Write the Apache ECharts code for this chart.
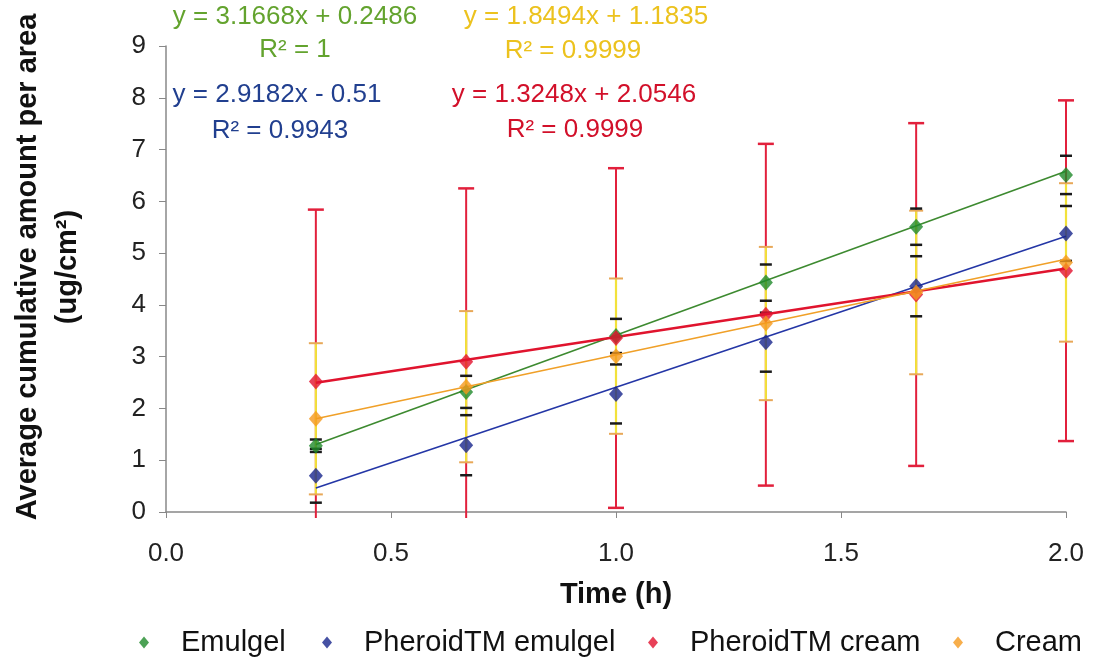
<!DOCTYPE html>
<html><head><meta charset="utf-8">
<script src="https://cdn.jsdelivr.net/npm/echarts/dist/echarts.min.js"></script>
<style>html,body{margin:0;padding:0;background:#fff}#c{width:1095px;height:661px}</style>
</head><body><div id="c"></div>
<script>
// ---- data ----
const times = [0.333, 0.667, 1.0, 1.333, 1.667, 2.0];
const seriesNames = ['Emulgel', 'PheroidTM emulgel', 'PheroidTM cream', 'Cream'];
const emulgel = [1.28, 2.32, 3.40, 4.43, 5.51, 6.51];
const emulgelSD = [0.12, 0.31, 0.33, 0.35, 0.35, 0.37];
const pheroidEmulgel = [0.70, 1.29, 2.28, 3.28, 4.36, 5.38];
const pheroidEmulgelSD = [0.52, 0.58, 0.57, 0.57, 0.58, 0.53];
const pheroidCream = [2.52, 2.90, 3.36, 3.81, 4.20, 4.66];
const pheroidCreamSD = [3.32, 3.35, 3.28, 3.30, 3.31, 3.29];
const cream = [1.80, 2.42, 3.01, 3.64, 4.24, 4.82];
const creamSD = [1.46, 1.46, 1.50, 1.48, 1.58, 1.53];
// trendline equations shown on the chart (Emulgel, PheroidTM emulgel, PheroidTM cream, Cream)
const trendSlopes = [3.1668, 2.9182, 1.3248, 1.8494];
const trendIntercepts = [0.2486, -0.51, 2.0546, 1.1835];
const equationTexts = ['y = 3.1668x + 0.2486', 'y = 2.9182x - 0.51', 'y = 1.3248x + 2.0546', 'y = 1.8494x + 1.1835'];
const r2Texts = ['R² = 1', 'R² = 0.9943', 'R² = 0.9999', 'R² = 0.9999'];
const xTickLabels = ['0.0', '0.5', '1.0', '1.5', '2.0'];

// ---- styling ----
const markerColors = ['#1f8a2a', '#18268c', '#e2122e', '#f59a1e'];
const lineColors = ['#3d8a30', '#2436a6', '#e0142e', '#f0a028'];
const textColors = ['#63a32e', '#213f8f', '#d2102a', '#ecc21e'];
const eqPos = [[295, 17, 295, 50], [277, 95, 280, 131], [574, 95, 575, 130], [586, 17, 573, 51]];
const FONT = '"Liberation Sans", Arial, sans-serif';

const meansList = [emulgel, pheroidEmulgel, pheroidCream, cream];

function errSeries(id, means, sds, o) {
  return {
    type: 'custom', id: id, silent: true, z: o.z, clip: false,
    data: times.map((t, i) => [t, means[i] - sds[i], means[i] + sds[i]]),
    encode: { x: 0, y: [1, 2] },
    renderItem(params, api) {
      const x = api.value(0), lo = api.value(1), hi = api.value(2);
      const pt = api.coord([x, hi]);
      const pb = api.coord([x, Math.max(lo, 0)]);
      const ch = [];
      if (o.line) ch.push({ type: 'line', shape: { x1: pt[0], y1: pt[1], x2: pb[0], y2: pb[1] + (lo < 0 ? 6 : 0) }, style: { stroke: o.line, lineWidth: o.lw } });
      ch.push({ type: 'line', shape: { x1: pt[0] - o.cap, y1: pt[1], x2: pt[0] + o.cap, y2: pt[1] }, style: { stroke: o.capColor, lineWidth: o.capW } });
      if (lo >= 0) ch.push({ type: 'line', shape: { x1: pb[0] - o.cap, y1: pb[1], x2: pb[0] + o.cap, y2: pb[1] }, style: { stroke: o.capColor, lineWidth: o.capW } });
      return { type: 'group', children: ch };
    }
  };
}

const series = [];
series.push(errSeries('errRed', pheroidCream, pheroidCreamSD, { z: 2, line: '#e2203c', lw: 2, cap: 8, capColor: '#e2203c', capW: 2.5 }));
series.push(errSeries('errCream', cream, creamSD, { z: 3, line: '#f2e23a', lw: 2.2, cap: 7, capColor: '#e8a858', capW: 2 }));
series.push(errSeries('errEmulgel', emulgel, emulgelSD, { z: 4, line: null, cap: 6, capColor: '#1a1a1a', capW: 2.5 }));
series.push(errSeries('errPE', pheroidEmulgel, pheroidEmulgelSD, { z: 4, line: null, cap: 6, capColor: '#1a1a1a', capW: 2.5 }));

for (let k = 0; k < 4; k++) {
  const x0 = times[0], x1 = times[times.length - 1];
  series.push({
    type: 'line', id: 'trend' + k, silent: true, z: 5, showSymbol: false, symbol: 'none',
    data: [[x0, trendSlopes[k] * x0 + trendIntercepts[k]], [x1, trendSlopes[k] * x1 + trendIntercepts[k]]],
    lineStyle: { color: lineColors[k], width: k === 2 ? 2.6 : 1.6 }
  });
}
for (let k = 0; k < 4; k++) {
  series.push({
    type: 'scatter', name: seriesNames[k], z: 6, symbol: 'diamond', symbolSize: [14, 16],
    itemStyle: { color: markerColors[k] },
    data: times.map((t, i) => [t, meansList[k][i]])
  });
}

const legendIconX = [144, 327, 653, 958];
const legends = seriesNames.map((n, k) => ({
  data: [n], left: legendIconX[k] - 10, top: 623, icon: 'diamond', itemWidth: 10, itemHeight: 12,
  textStyle: { fontFamily: FONT, fontSize: 29, color: '#111', padding: [0, 0, 0, 27] }
}));

const graphics = [];
for (let k = 0; k < 4; k++) {
  const p = eqPos[k];
  graphics.push({ type: 'text', x: p[0], y: p[1], style: { text: equationTexts[k], fill: textColors[k], font: '26px ' + FONT, textAlign: 'center', textVerticalAlign: 'middle' } });
  graphics.push({ type: 'text', x: p[2], y: p[3], style: { text: r2Texts[k], fill: textColors[k], font: '26px ' + FONT, textAlign: 'center', textVerticalAlign: 'middle' } });
}

const chart = echarts.init(document.getElementById('c'));
chart.setOption({
  animation: false,
  backgroundColor: '#fff',
  grid: { left: 166, right: 29, top: 46, bottom: 149, containLabel: false, outerBoundsMode: 'none' },
  legend: legends,
  graphic: graphics,
  xAxis: {
    type: 'value', min: 0, max: 2, interval: 0.5,
    name: 'Time (h)', nameLocation: 'middle', nameGap: 68,
    nameTextStyle: { fontFamily: FONT, fontSize: 29, fontWeight: 'bold', color: '#111' },
    axisLine: { lineStyle: { color: '#888', width: 1.5 } },
    axisTick: { show: true, length: 6, lineStyle: { color: '#888' } },
    splitLine: { show: false },
    axisLabel: { fontFamily: FONT, fontSize: 26, color: '#222', margin: 29, formatter: v => xTickLabels[Math.round(v / 0.5)] }
  },
  yAxis: {
    type: 'value', min: 0, max: 9, interval: 1,
    name: 'Average cumulative amount per area\n(ug/cm²)', nameLocation: 'middle', nameGap: 78, nameRotate: 90,
    nameTextStyle: { fontFamily: FONT, fontSize: 29, fontWeight: 'bold', color: '#111', lineHeight: 40, align: 'center', padding: [0, 0, 0, 24] },
    axisLine: { show: true, lineStyle: { color: '#888', width: 1.5 } },
    axisTick: { show: true, length: 7, lineStyle: { color: '#888' } },
    splitLine: { show: false },
    axisLabel: { fontFamily: FONT, fontSize: 26, color: '#222', margin: 20 }
  },
  series: series
});
</script></body></html>
